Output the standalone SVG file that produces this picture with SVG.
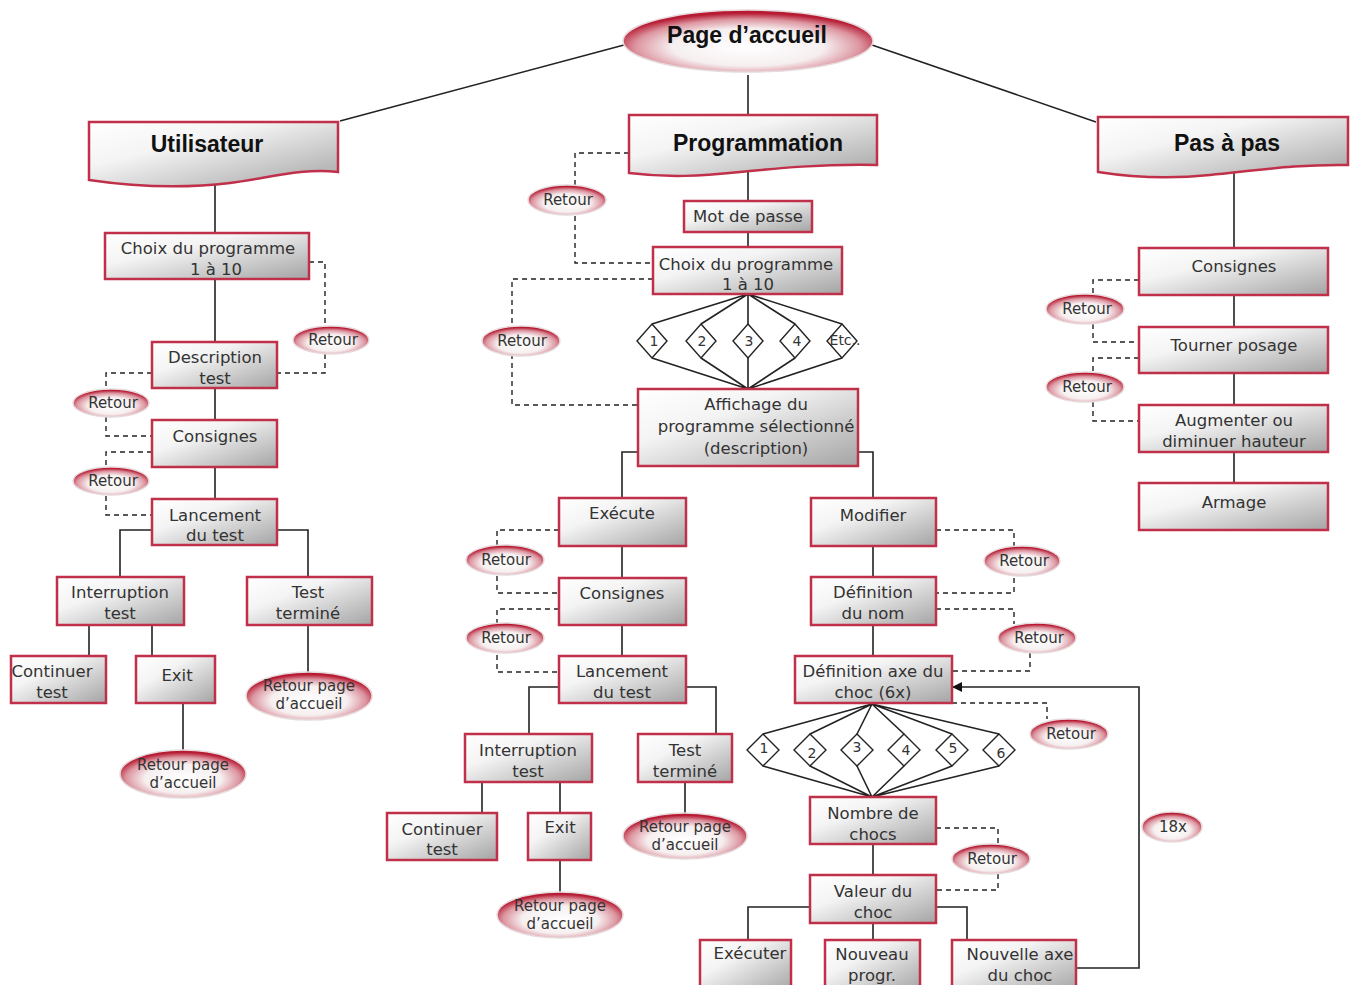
<svg xmlns="http://www.w3.org/2000/svg" width="1353" height="985" viewBox="0 0 1353 985">
<defs>
<linearGradient id="g" x1="0" y1="0" x2="1" y2="1">
<stop offset="0" stop-color="#ffffff"/>
<stop offset="0.35" stop-color="#f4f4f4"/>
<stop offset="1" stop-color="#a4a4a4"/>
</linearGradient>
<radialGradient id="r" cx="0.5" cy="0.6" r="0.55">
<stop offset="0" stop-color="#ffffff"/>
<stop offset="0.55" stop-color="#f6eff0"/>
<stop offset="0.82" stop-color="#dc95a0"/>
<stop offset="1" stop-color="#b71b33"/>
</radialGradient>
<marker id="ah" markerWidth="10" markerHeight="10" refX="9" refY="5" orient="auto" markerUnits="userSpaceOnUse">
<path d="M0,0 L10,5 L0,10 Z" fill="#111"/>
</marker>
<style>
.box{fill:url(#g);stroke:#c0304a;stroke-width:2.5}
.ell{fill:url(#r);stroke:#e6dadc;stroke-width:1.5}
.t{font-family:"DejaVu Sans",sans-serif;font-size:16.5px;fill:#333;text-anchor:middle}
.s{font-family:"DejaVu Sans",sans-serif;font-size:15px;fill:#333;text-anchor:middle}
.d{font-family:"DejaVu Sans",sans-serif;font-size:14px;fill:#333;text-anchor:middle}
.h{font-family:"Liberation Sans",Arial,sans-serif;font-weight:bold;font-size:23px;fill:#111;text-anchor:middle}
.ln{stroke:#222;stroke-width:1.6;fill:none}
.ds{stroke:#222;stroke-width:1.4;stroke-dasharray:5 4;fill:none}
.dm{fill:#fff;stroke:#222;stroke-width:1.4}
</style>
</defs>
<rect width="1353" height="985" fill="#ffffff"/>

<g id="connectors">
<path class="ln" d="M624,45 L340,121"/>
<path class="ln" d="M872,45 L1096,122"/>
<path class="ln" d="M748,75 V115"/>
<path class="ln" d="M215,184 V233 M215,279 V342 M215,388 V420 M215,467 V499"/>
<path class="ln" d="M152,530 H120 V577 M277,530 H308 V577"/>
<path class="ln" d="M89,625 V656 M152,625 V656 M183,703 V750 M308,625 V672"/>
<path class="ds" d="M309,262 H325 V373 H277"/>
<path class="ds" d="M152,373 H106 V436 H152"/>
<path class="ds" d="M152,452 H106 V515 H152"/>
<path class="ln" d="M748,172 V201 M748,232 V247"/>
<path class="ds" d="M629,153 H575 V263 H653"/>
<path class="ds" d="M653,279 H512 V405 H638"/>
<path class="ln" d="M748,294 L652,324 M748,294 L701,324 M748,294 V324 M748,294 L795,324 M748,294 L842,324"/>
<path class="ln" d="M652,358 L748,389 M701,358 L748,389 M748,358 V389 M795,358 L748,389 M842,358 L748,389"/>
<path class="ln" d="M638,452 H622 V498 M858,452 H873 V498"/>
<path class="ln" d="M622,546 V578 M622,625 V656"/>
<path class="ds" d="M559,530 H497 V593 H559"/>
<path class="ds" d="M559,609 H497 V672 H559"/>
<path class="ln" d="M559,687 H529 V734 M686,687 H716 V734"/>
<path class="ln" d="M482,782 V813 M560,782 V813 M560,860 V892 M685,782 V813"/>
<path class="ln" d="M873,546 V577 M873,625 V656"/>
<path class="ds" d="M936,530 H1014 V593 H936"/>
<path class="ds" d="M936,609 H1014 V624 M1030,653 V671 H952"/>
<path class="ds" d="M952,703 H1047 V719"/>
<path class="ln" d="M872,704 L763,734 M872,704 L810,734 M872,704 L857,734 M872,704 L904,734 M872,704 L952,734 M872,704 L999,734"/>
<path class="ln" d="M763,766 L872,797 M810,766 L872,797 M857,766 L872,797 M904,766 L872,797 M952,766 L872,797 M999,766 L872,797"/>
<path class="ln" d="M873,844 V875"/>
<path class="ds" d="M936,828 H998 V844 M998,874 V890 H936"/>
<path class="ln" d="M810,907 H748 V940 M873,923 V940 M936,907 H967 V940"/>
<path class="ln" d="M1076,968 H1139 V687 H953" marker-end="url(#ah)"/>
<path class="ln" d="M1234,172 V248 M1234,295 V327 M1234,373 V405 M1234,452 V483"/>
<path class="ds" d="M1139,280 H1093 V342 H1139"/>
<path class="ds" d="M1139,358 H1093 V421 H1139"/>
</g>

<g id="page-accueil">
<ellipse class="ell" cx="748" cy="41" rx="125" ry="31"/>
<text class="h" x="747" y="43" font-size="24">Page d’accueil</text>
</g>

<g id="utilisateur">
<path class="box" d="M89,122 H338 V172 C300,168 270,178 230,183 C180,189 130,186 89,180 Z"/>
<text class="h" x="207" y="152">Utilisateur</text>
</g>
<g id="programmation">
<path class="box" d="M629,115 H877 V165 C820,164 780,168 740,172 C700,176 670,178 629,173 Z"/>
<text class="h" x="758" y="151">Programmation</text>
</g>
<g id="pas-a-pas">
<path class="box" d="M1098,117 H1348 V165 C1300,164 1260,170 1210,175 C1170,179 1130,177 1098,172 Z"/>
<text class="h" x="1227" y="151">Pas à pas</text>
</g>

<g id="l-choix"><rect class="box" x="105" y="233" width="204" height="46"/><text class="t" x="208" y="254">Choix du programme</text><text class="t" x="216" y="275">1 à 10</text></g>
<g id="l-retour1"><ellipse class="ell" cx="331" cy="340" rx="38" ry="14"/><text class="s" x="333" y="345">Retour</text></g>
<g id="l-desc"><rect class="box" x="152" y="342" width="125" height="46"/><text class="t" x="215" y="363">Description</text><text class="t" x="215" y="384">test</text></g>
<g id="l-retour2"><ellipse class="ell" cx="111" cy="403" rx="38" ry="14"/><text class="s" x="113" y="408">Retour</text></g>
<g id="l-cons"><rect class="box" x="152" y="420" width="125" height="47"/><text class="t" x="215" y="442">Consignes</text></g>
<g id="l-retour3"><ellipse class="ell" cx="111" cy="481" rx="38" ry="14"/><text class="s" x="113" y="486">Retour</text></g>
<g id="l-lanc"><rect class="box" x="152" y="499" width="125" height="46"/><text class="t" x="215" y="521">Lancement</text><text class="t" x="215" y="541">du test</text></g>
<g id="l-int"><rect class="box" x="57" y="577" width="127" height="48"/><text class="t" x="120" y="598">Interruption</text><text class="t" x="120" y="619">test</text></g>
<g id="l-term"><rect class="box" x="247" y="577" width="125" height="48"/><text class="t" x="308" y="598">Test</text><text class="t" x="308" y="619">terminé</text></g>
<g id="l-cont"><rect class="box" x="11" y="656" width="95" height="47"/><text class="t" x="52" y="677">Continuer</text><text class="t" x="52" y="698">test</text></g>
<g id="l-exit"><rect class="box" x="136" y="656" width="79" height="47"/><text class="t" x="177" y="681">Exit</text></g>
<g id="l-rpa1"><ellipse class="ell" cx="183" cy="774" rx="63" ry="24"/><text class="s" x="183" y="770">Retour page</text><text class="s" x="183" y="788">d’accueil</text></g>
<g id="l-rpa2"><ellipse class="ell" cx="309" cy="696" rx="63" ry="24"/><text class="s" x="309" y="691">Retour page</text><text class="s" x="309" y="709">d’accueil</text></g>

<g id="m-retour1"><ellipse class="ell" cx="567" cy="200" rx="39" ry="15"/><text class="s" x="568" y="205">Retour</text></g>
<g id="m-mdp"><rect class="box" x="684" y="201" width="128" height="31"/><text class="t" x="748" y="222">Mot de passe</text></g>
<g id="m-choix"><rect class="box" x="653" y="247" width="189" height="47"/><text class="t" x="746" y="270">Choix du programme</text><text class="t" x="748" y="290">1 à 10</text></g>
<g id="m-retour2"><ellipse class="ell" cx="521" cy="341" rx="39" ry="15"/><text class="s" x="522" y="346">Retour</text></g>
<g id="m-d1"><path class="dm" d="M652,324 L667,341 L652,358 L637,341 Z"/><text class="d" x="654" y="346">1</text></g>
<g id="m-d2"><path class="dm" d="M701,324 L716,341 L701,358 L686,341 Z"/><text class="d" x="702" y="346">2</text></g>
<g id="m-d3"><path class="dm" d="M748,324 L763,341 L748,358 L733,341 Z"/><text class="d" x="749" y="346">3</text></g>
<g id="m-d4"><path class="dm" d="M795,324 L810,341 L795,358 L780,341 Z"/><text class="d" x="797" y="346">4</text></g>
<g id="m-d5"><path class="dm" d="M842,324 L857,341 L842,358 L827,341 Z"/><text class="d" x="845" y="345" font-size="13">Etc..</text></g>
<g id="m-aff"><rect class="box" x="638" y="389" width="220" height="77"/><text class="t" x="756" y="410">Affichage du</text><text class="t" x="756" y="432">programme sélectionné</text><text class="t" x="756" y="454">(description)</text></g>
<g id="m-exe"><rect class="box" x="559" y="498" width="127" height="48"/><text class="t" x="622" y="519">Exécute</text></g>
<g id="m-retour3"><ellipse class="ell" cx="505" cy="560" rx="39" ry="15"/><text class="s" x="506" y="565">Retour</text></g>
<g id="m-cons"><rect class="box" x="559" y="578" width="127" height="47"/><text class="t" x="622" y="599">Consignes</text></g>
<g id="m-retour4"><ellipse class="ell" cx="505" cy="638" rx="39" ry="15"/><text class="s" x="506" y="643">Retour</text></g>
<g id="m-lanc"><rect class="box" x="559" y="656" width="127" height="47"/><text class="t" x="622" y="677">Lancement</text><text class="t" x="622" y="698">du test</text></g>
<g id="m-int"><rect class="box" x="465" y="734" width="127" height="48"/><text class="t" x="528" y="756">Interruption</text><text class="t" x="528" y="777">test</text></g>
<g id="m-term"><rect class="box" x="638" y="734" width="94" height="48"/><text class="t" x="685" y="756">Test</text><text class="t" x="685" y="777">terminé</text></g>
<g id="m-cont"><rect class="box" x="387" y="813" width="110" height="47"/><text class="t" x="442" y="835">Continuer</text><text class="t" x="442" y="855">test</text></g>
<g id="m-exit"><rect class="box" x="528" y="813" width="63" height="47"/><text class="t" x="560" y="833">Exit</text></g>
<g id="m-rpa1"><ellipse class="ell" cx="560" cy="915" rx="63" ry="23"/><text class="s" x="560" y="911">Retour page</text><text class="s" x="560" y="929">d’accueil</text></g>
<g id="m-rpa2"><ellipse class="ell" cx="685" cy="836" rx="62" ry="23"/><text class="s" x="685" y="832">Retour page</text><text class="s" x="685" y="850">d’accueil</text></g>

<g id="r-mod"><rect class="box" x="811" y="498" width="125" height="48"/><text class="t" x="873" y="521">Modifier</text></g>
<g id="r-retour1"><ellipse class="ell" cx="1022" cy="561" rx="38" ry="15"/><text class="s" x="1024" y="566">Retour</text></g>
<g id="r-nom"><rect class="box" x="811" y="577" width="125" height="48"/><text class="t" x="873" y="598">Définition</text><text class="t" x="873" y="619">du nom</text></g>
<g id="r-retour2"><ellipse class="ell" cx="1037" cy="638" rx="39" ry="15"/><text class="s" x="1039" y="643">Retour</text></g>
<g id="r-axe"><rect class="box" x="795" y="656" width="157" height="47"/><text class="t" x="873" y="677">Définition axe du</text><text class="t" x="873" y="698">choc (6x)</text></g>
<g id="r-retour3"><ellipse class="ell" cx="1069" cy="734" rx="39" ry="15"/><text class="s" x="1071" y="739">Retour</text></g>
<g id="r-d1"><path class="dm" d="M763,734 L779,750 L763,766 L747,750 Z"/><text class="d" x="764" y="753">1</text></g>
<g id="r-d2"><path class="dm" d="M810,734 L826,750 L810,766 L794,750 Z"/><text class="d" x="812" y="758">2</text></g>
<g id="r-d3"><path class="dm" d="M857,734 L873,750 L857,766 L841,750 Z"/><text class="d" x="857" y="752">3</text></g>
<g id="r-d4"><path class="dm" d="M904,734 L920,750 L904,766 L888,750 Z"/><text class="d" x="906" y="755">4</text></g>
<g id="r-d5"><path class="dm" d="M952,734 L968,750 L952,766 L936,750 Z"/><text class="d" x="953" y="753">5</text></g>
<g id="r-d6"><path class="dm" d="M999,734 L1015,750 L999,766 L983,750 Z"/><text class="d" x="1001" y="758">6</text></g>
<g id="r-nbr"><rect class="box" x="810" y="797" width="126" height="47"/><text class="t" x="873" y="819">Nombre de</text><text class="t" x="873" y="840">chocs</text></g>
<g id="r-retour4"><ellipse class="ell" cx="991" cy="859" rx="39" ry="15"/><text class="s" x="992" y="864">Retour</text></g>
<g id="r-val"><rect class="box" x="810" y="875" width="126" height="48"/><text class="t" x="873" y="897">Valeur du</text><text class="t" x="873" y="918">choc</text></g>
<g id="r-exe"><rect class="box" x="700" y="940" width="91" height="52"/><text class="t" x="750" y="959">Exécuter</text></g>
<g id="r-nouv"><rect class="box" x="825" y="940" width="95" height="52"/><text class="t" x="872" y="960">Nouveau</text><text class="t" x="872" y="981">progr.</text></g>
<g id="r-nax"><rect class="box" x="952" y="940" width="124" height="52"/><text class="t" x="1020" y="960">Nouvelle axe</text><text class="t" x="1020" y="981">du choc</text></g>
<g id="r-18x"><ellipse class="ell" cx="1172" cy="827" rx="30" ry="15"/><text class="s" x="1173" y="832">18x</text></g>

<g id="p-cons"><rect class="box" x="1139" y="248" width="189" height="47"/><text class="t" x="1234" y="272">Consignes</text></g>
<g id="p-retour1"><ellipse class="ell" cx="1085" cy="309" rx="39" ry="15"/><text class="s" x="1087" y="314">Retour</text></g>
<g id="p-tour"><rect class="box" x="1139" y="327" width="189" height="46"/><text class="t" x="1234" y="351">Tourner posage</text></g>
<g id="p-retour2"><ellipse class="ell" cx="1085" cy="387" rx="39" ry="15"/><text class="s" x="1087" y="392">Retour</text></g>
<g id="p-aug"><rect class="box" x="1139" y="405" width="189" height="47"/><text class="t" x="1234" y="426">Augmenter ou</text><text class="t" x="1234" y="447">diminuer hauteur</text></g>
<g id="p-arm"><rect class="box" x="1139" y="483" width="189" height="47"/><text class="t" x="1234" y="508">Armage</text></g>
</svg>
